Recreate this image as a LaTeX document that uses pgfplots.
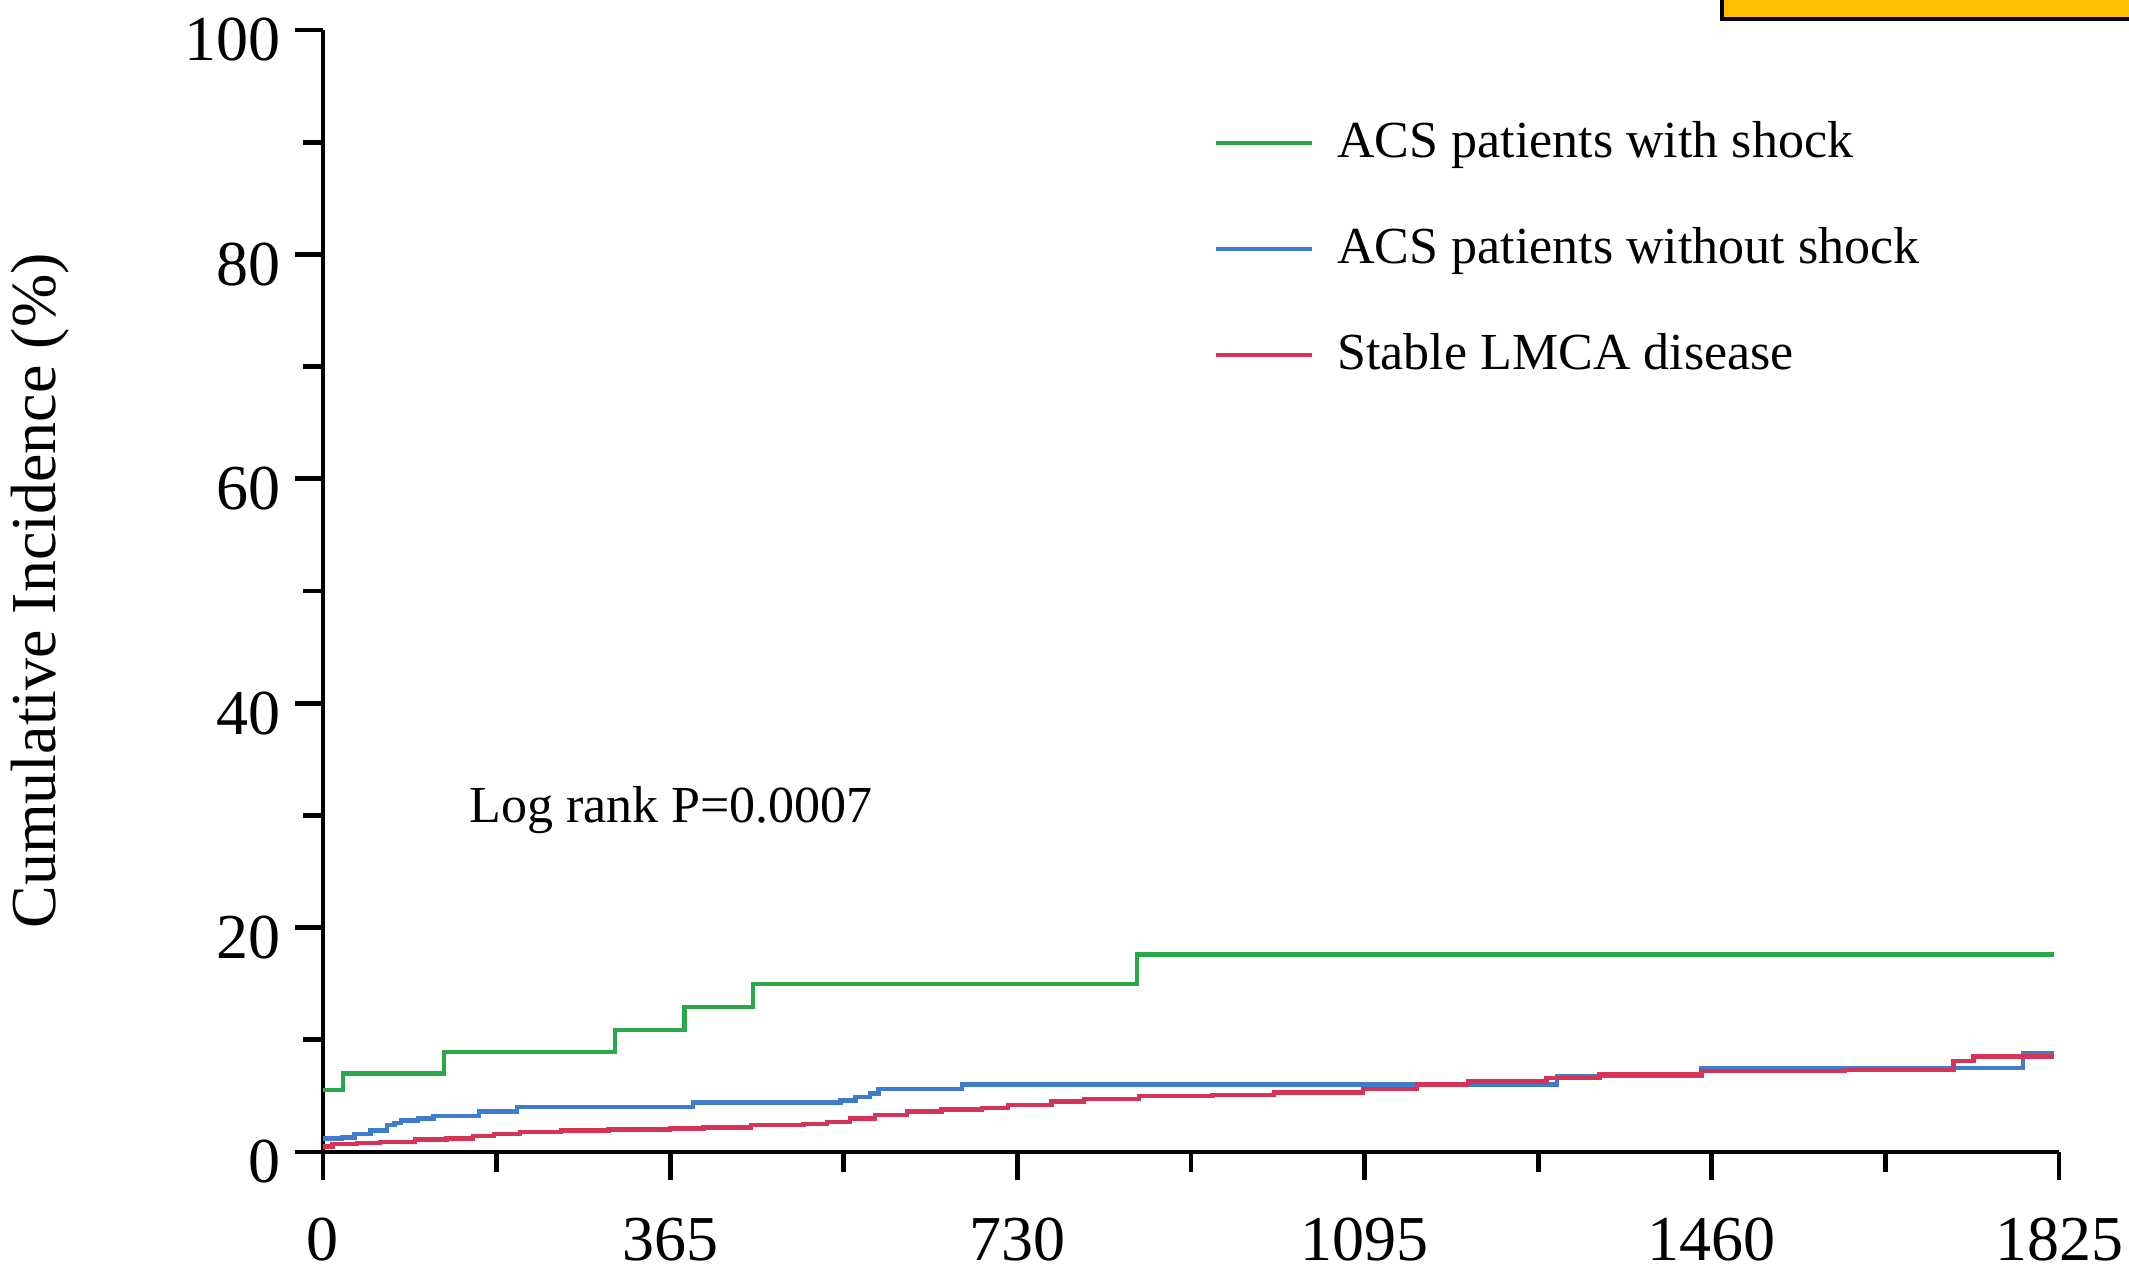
\documentclass[border=0pt]{standalone}
\usepackage{fontspec}
\setmainfont{Liberation Serif}
\usepackage{pgfplots}
\pgfplotsset{compat=1.18}
\usetikzlibrary{calc}

\definecolor{kmgreen}{RGB}{40,168,72}
\definecolor{kmblue}{RGB}{62,124,204}
\definecolor{kmred}{RGB}{214,52,86}
\definecolor{tagyellow}{RGB}{255,192,0}

\begin{document}
\begin{tikzpicture}
\begin{axis}[
    scale only axis,
    width=434pt, height=280.5pt,
    xmin=0, xmax=1825, ymin=0, ymax=100,
    axis lines=left,
    axis line style={line width=1.2pt, -},
    xtick={0,365,730,1095,1460,1825},
    minor xtick={182.5,547.5,912.5,1277.5,1642.5},
    ytick={0,20,...,100},
    minor ytick={10,30,...,90},
    tick align=outside,
    tick style={line width=1.2pt, black},
    major tick length=7pt, minor tick length=5pt,
    tick label style={font=\fontsize{16}{19}\selectfont},
    xticklabel style={yshift=-6pt},
    yticklabel style={yshift=-2.5pt},
    /pgf/number format/assume math mode=true,
    /pgf/number format/1000 sep={},
    ylabel={Cumulative Incidence (\%)},
    every axis y label/.style={at={(axis description cs:-0.163,0.5)}, rotate=90, anchor=center, font=\fontsize{16}{19}\selectfont},
    legend style={draw=none, fill=none, at={(rel axis cs:0.5127,0.919)}, anchor=north west,
        inner sep=0pt, row sep=16pt, column sep=5.8pt,
        font=\fontsize{13}{15}\selectfont, nodes={inner sep=0pt}},
    legend cell align=left,
    legend image code/.code={\draw[#1, line width=1.1pt] (0pt,0pt) -- (24pt,0pt);},
]
% ACS patients with shock
\addplot[const plot, kmgreen, line width=1.1pt] coordinates {
    (0,5.5) (21,7.0) (127,8.9) (307,10.9) (380,12.9) (452,15.0) (856,17.6) (1820,17.6)
};
\addlegendentry{ACS patients with shock}
% ACS patients without shock
\addplot[const plot, kmblue, line width=1.1pt] coordinates {
    (0,1.2) (20,1.3) (33,1.6) (50,1.9) (67,2.4) (75,2.6) (82,2.8) (100,3.0) (116,3.2)
    (164,3.6) (204,4.0) (389,4.4) (544,4.6) (560,4.9) (575,5.2) (584,5.6) (672,6.0)
    (1297,6.8) (1449,7.5) (1787,8.8) (1820,8.8)
};
\addlegendentry{ACS patients without shock}
% Stable LMCA disease
\addplot[const plot, kmred, line width=1.1pt] coordinates {
    (0,0.5) (10,0.7) (36,0.8) (60,0.9) (97,1.1) (130,1.2) (158,1.4) (180,1.6) (207,1.8)
    (250,1.9) (300,2.0) (365,2.1) (400,2.2) (450,2.4) (505,2.5) (530,2.7) (554,3.0)
    (580,3.3) (614,3.6) (650,3.8) (693,3.9) (720,4.2) (766,4.5) (800,4.7) (858,5.0)
    (935,5.1) (1000,5.3) (1093,5.6) (1150,6.0) (1204,6.3) (1286,6.6) (1342,6.9)
    (1449,7.2) (1600,7.3) (1714,8.1) (1735,8.5) (1820,8.5)
};
\addlegendentry{Stable LMCA disease}
\node[anchor=base west, inner sep=0pt, font=\fontsize{13}{15}\selectfont]
    at (axis cs:153,29.4) {Log rank P=0.0007};
\coordinate (ll) at (rel axis cs:0,0);
\coordinate (ur) at (rel axis cs:1,1);
\end{axis}
\draw[fill=tagyellow, line width=1pt] ($(ll|-ur)+(349.75pt,2.75pt)$) rectangle ($(ur)+(40pt,20pt)$);
\pgfresetboundingbox
\path ($(ll)+(-80.75pt,-30.5pt)$) rectangle ($(ur)+(17.5pt,7.5pt)$);
\end{tikzpicture}
\end{document}
